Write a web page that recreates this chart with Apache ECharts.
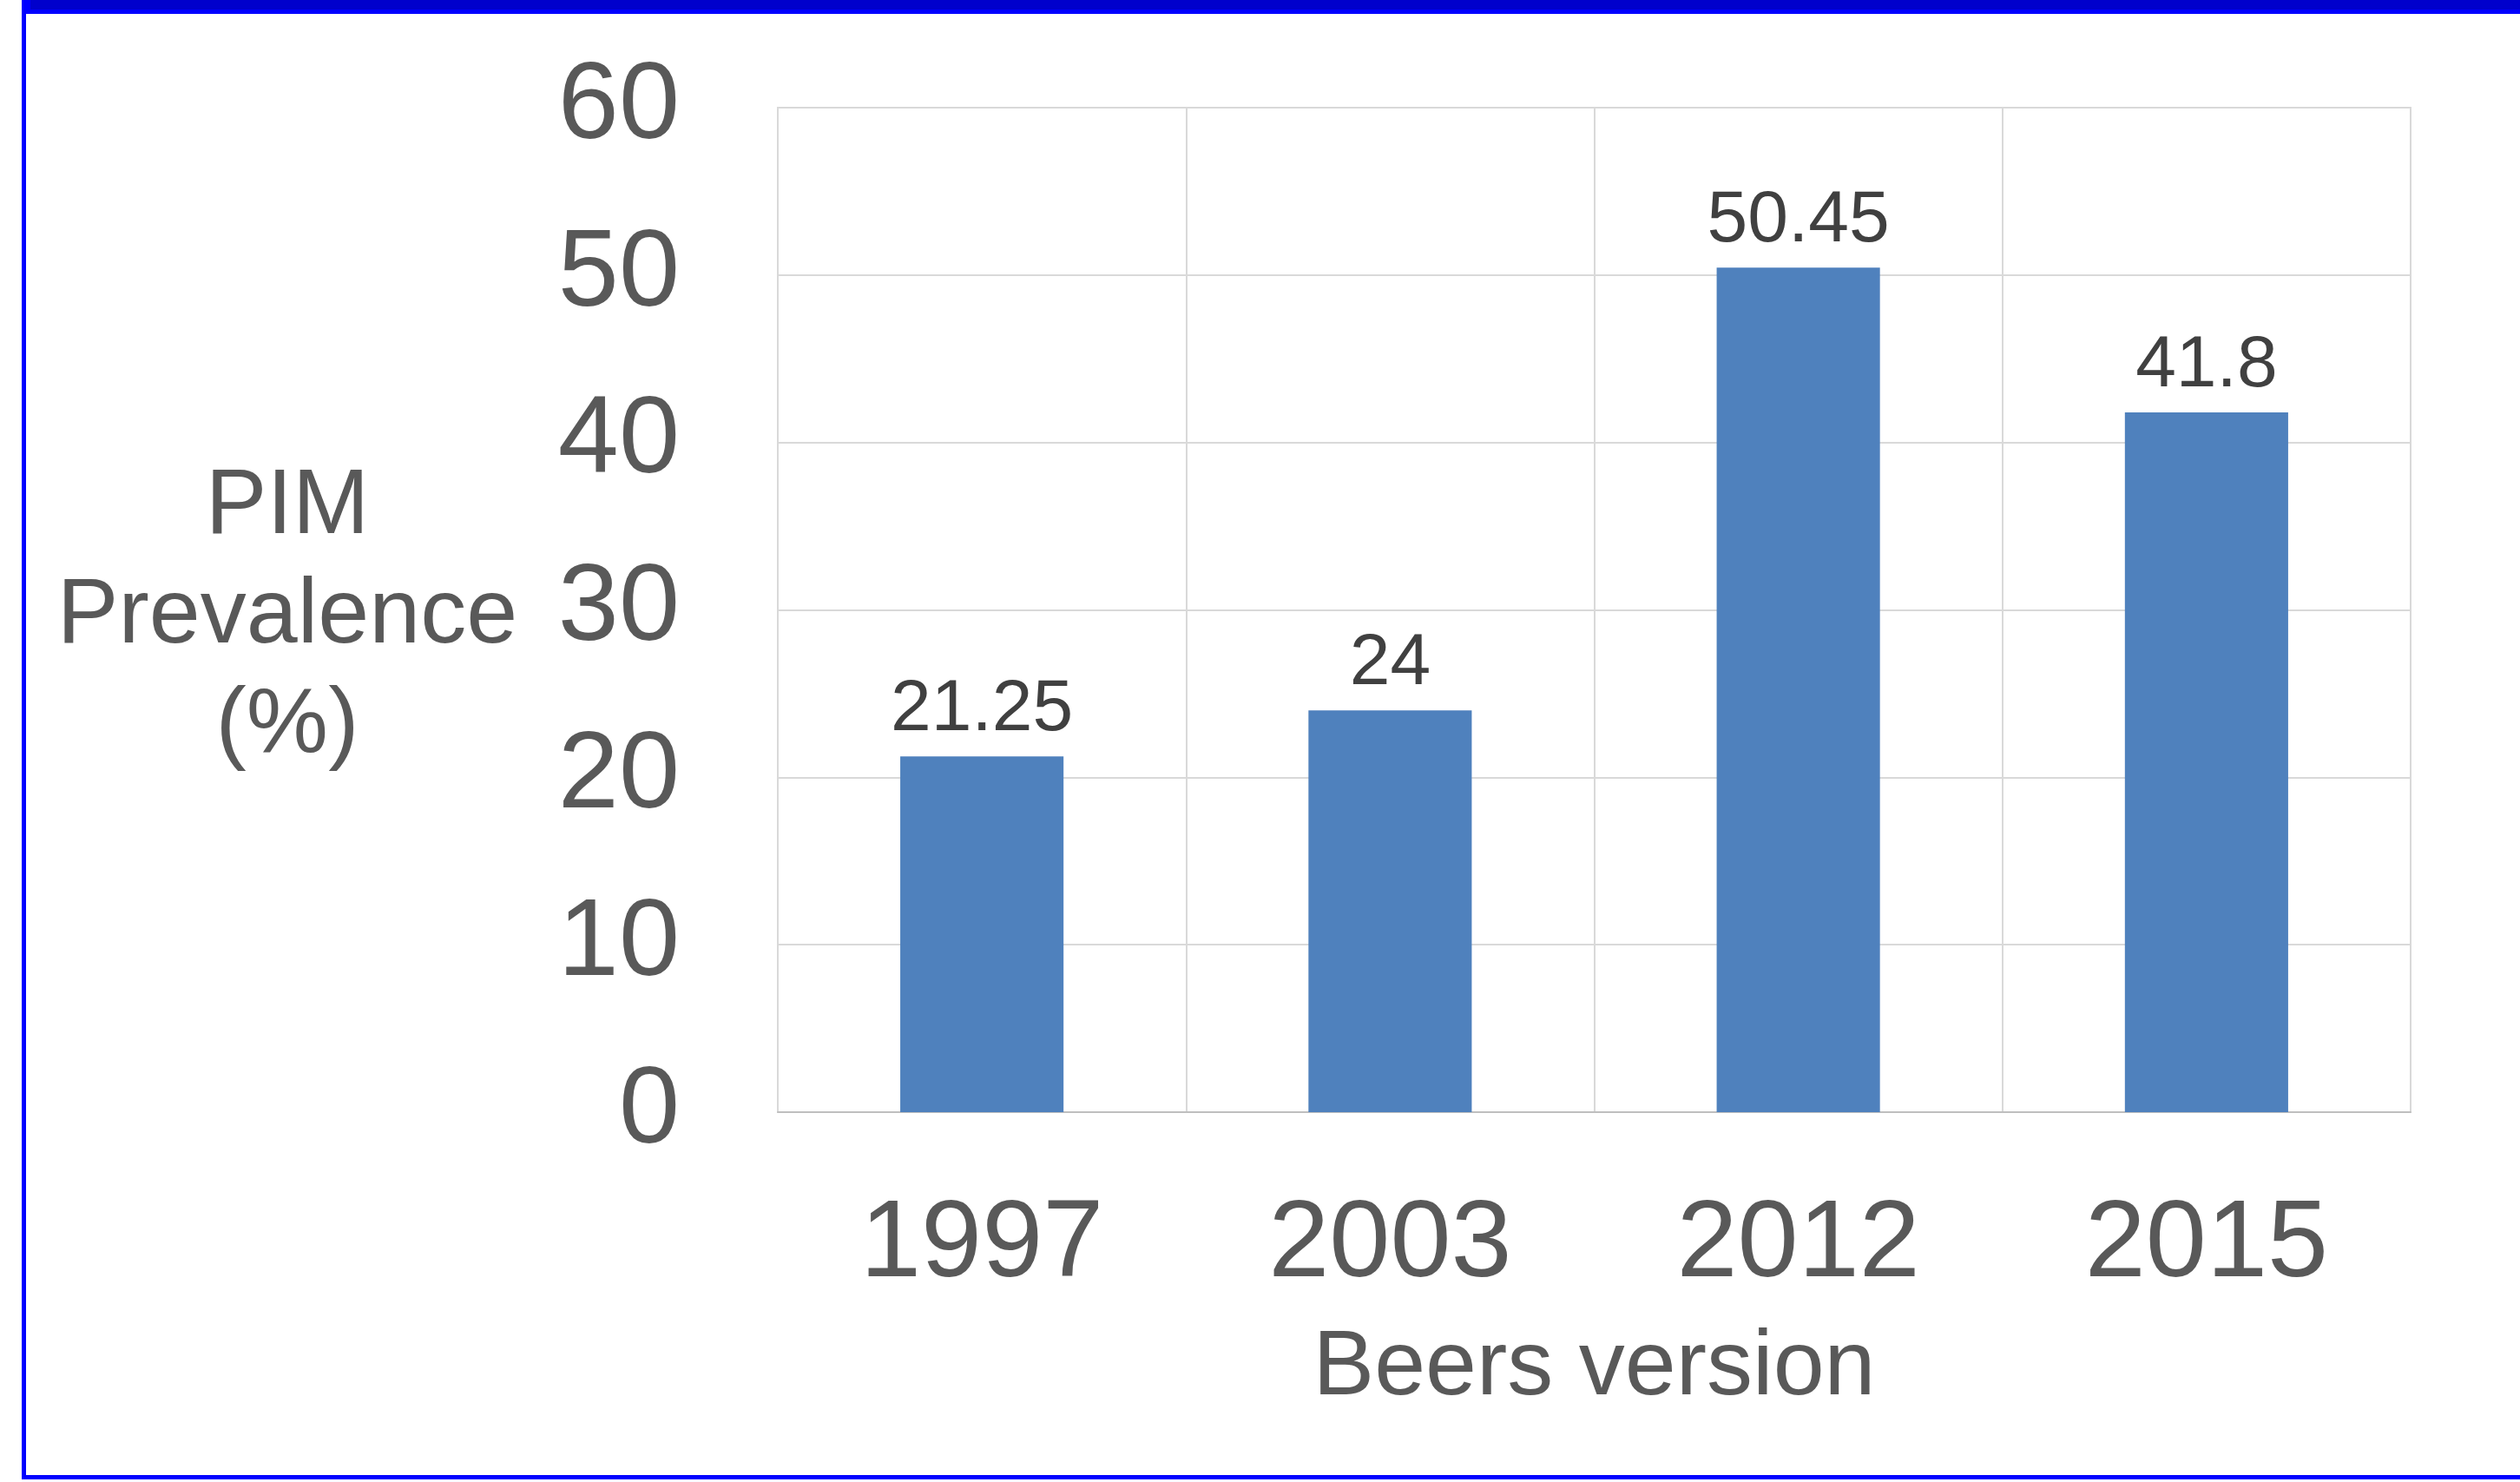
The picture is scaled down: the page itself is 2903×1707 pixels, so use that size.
<!DOCTYPE html>
<html>
<head>
<meta charset="utf-8">
<script src="https://cdn.jsdelivr.net/npm/echarts@6/dist/echarts.min.js"></script>
<style>
html,body{margin:0;padding:0;background:#fff;}
#chart{width:2903px;height:1707px;}
</style>
</head>
<body>
<div id="chart"></div>
<script>
var categories = ['1997', '2003', '2012', '2015'];
var values = [21.25, 24, 50.45, 41.8];
var yTicks = [0, 10, 20, 30, 40, 50, 60];
var yAxisTitleLines = ['PIM', 'Prevalence', '(%)'];
var xAxisTitle = 'Beers version';

var chart = echarts.init(document.getElementById('chart'), null, {renderer: 'canvas'});
var FONT = '"Liberation Sans", Arial, sans-serif';
var yName = '{s| }\n' + yAxisTitleLines.map(function (t) { return '{a|' + t + '}'; }).join('\n');
chart.setOption({
  backgroundColor: '#ffffff',
  animation: false,
  graphic: [
    {type: 'rect', left: 25, top: 0, shape: {width: 2878, height: 16}, style: {fill: '#0000ff'}, silent: true},
    {type: 'rect', left: 35, top: 0, shape: {width: 2868, height: 11}, style: {fill: '#0000cc'}, silent: true},
    {type: 'rect', left: 25, top: 0, shape: {width: 5, height: 1704}, style: {fill: '#0000ff'}, silent: true},
    {type: 'rect', left: 25, top: 1699, shape: {width: 2878, height: 5}, style: {fill: '#0000ff'}, silent: true}
  ],
  grid: {
    left: 896, right: 126, top: 124, bottom: 426,
    show: true, borderColor: '#d9d9d9', borderWidth: 2, containLabel: false
  },
  xAxis: {
    type: 'category',
    data: categories,
    name: xAxisTitle,
    nameLocation: 'middle',
    nameGap: 243,
    nameTextStyle: {fontFamily: FONT, fontSize: 106, color: '#595959'},
    axisLine: {show: true, lineStyle: {color: '#bfbfbf', width: 2}},
    axisTick: {show: false},
    axisLabel: {fontFamily: FONT, fontSize: 126, color: '#595959', margin: 91},
    splitLine: {show: true, lineStyle: {color: '#d9d9d9', width: 2}}
  },
  yAxis: {
    type: 'value',
    min: yTicks[0],
    max: yTicks[yTicks.length - 1],
    interval: 10,
    name: yName,
    nameLocation: 'middle',
    nameRotate: 0,
    nameGap: 565,
    nameTextStyle: {
      fontFamily: FONT, fontSize: 106, color: '#595959', align: 'center', verticalAlign: 'middle',
      rich: {
        s: {fontSize: 10, lineHeight: 16, fontFamily: FONT, align: 'center'},
        a: {fontSize: 106, lineHeight: 126, fontFamily: FONT, color: '#595959', align: 'center'}
      }
    },
    axisLine: {show: true, lineStyle: {color: '#d9d9d9', width: 2}},
    axisTick: {show: false},
    axisLabel: {fontFamily: FONT, fontSize: 126, color: '#595959', margin: 113},
    splitLine: {show: true, lineStyle: {color: '#d9d9d9', width: 2}}
  },
  series: [{
    type: 'bar',
    data: values,
    barWidth: '40%',
    itemStyle: {color: '#4f81bd'},
    label: {
      show: true, position: 'top', distance: 11,
      fontFamily: FONT, fontSize: 84, color: '#404040'
    }
  }]
});
</script>
</body>
</html>
